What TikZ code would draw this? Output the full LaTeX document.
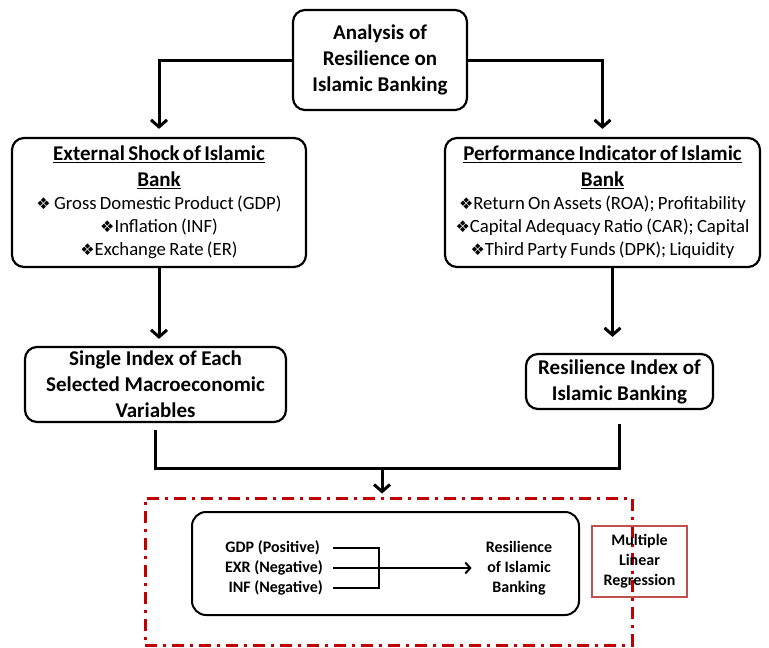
\documentclass[tikz,border=0pt]{standalone}
\usepackage{fontspec}
\setmainfont{Carlito}
\newfontfamily\dingfont{DejaVu Sans}
\usepackage{xcolor}
\usepackage{tikz}
\usetikzlibrary{arrows.meta}
\definecolor{frame red}{RGB}{192,0,0}
\definecolor{box red}{RGB}{192,80,77}
\newcommand{\headsize}{\bfseries\fontsize{21}{26}\selectfont}
\newcommand{\bodysize}{\fontsize{18.7}{23}\selectfont}
\newcommand{\dia}{{\dingfont\fontsize{16}{16}\selectfont ❖}}
\tikzset{mainbox/.style={draw, line width=2.2pt, rounded corners=12pt, align=center, inner sep=0pt},
headbox/.style={mainbox, font=\headsize},
link/.style={line width=3pt},
arrow/.style={link, -{Straight Barb[length=7pt,width=16pt]}},
thin link/.style={line width=2pt},
thin arrow/.style={thin link, -{Straight Barb[length=5pt,width=11pt]}},
varlabel/.style={font=\bfseries\fontsize{16}{20}\selectfont, inner sep=0pt},
%dash dot frame round the regression
regionframe/.style={draw=frame red, line width=3pt, dash pattern=on 12pt off 6pt on 3pt off 6pt},
mlrbox/.style={draw=box red, line width=2pt, align=center, font=\bfseries\fontsize{16}{20}\selectfont}}

\begin{document}
\begin{tikzpicture}[x=1pt, y=-1pt]
\useasboundingbox (0,0) rectangle (769,648);
\node[headbox, minimum width=174pt, minimum height=100pt] (analysis) at (380,60) {Analysis of\\Resilience on\\Islamic Banking};
\node[mainbox, text width=294pt, minimum height=129pt] (shock) at (159,202.5) {%
{\headsize\underline{External Shock of Islamic}\\\underline{Bank}\par}
{\bodysize\dia\ Gross Domestic Product (GDP)\\\dia Inflation (INF)\\\dia Exchange Rate (ER)\par}};
\node[mainbox, text width=315pt, minimum height=129pt] (perf) at (602.5,202.5) {%
{\headsize\underline{Performance Indicator of Islamic}\\\underline{Bank}\par}
{\bodysize\makebox[\linewidth]{\dia Return On Assets (ROA); Profitability}\\\makebox[\linewidth]{\dia Capital Adequacy Ratio (CAR); Capital}\\\dia Third Party Funds (DPK); Liquidity\par}};
\node[headbox, minimum width=261pt, minimum height=75pt] (single) at (155.5,384.5) {Single Index of Each\\Selected Macroeconomic\\Variables};
\node[headbox, minimum width=187pt, minimum height=55pt] (resil) at (619.5,381.5) {Resilience Index of\\Islamic Banking};

\node[regionframe, minimum width=487pt, minimum height=147pt] (region) at (388.5,571.5) {};
\node[draw, line width=2pt, rounded corners=14pt, minimum width=387pt, minimum height=103pt] (model) at (385.5,563.5) {};
\node[varlabel, anchor=east] (gdp) at (320,548) {GDP (Positive)};
\node[varlabel, anchor=east] (exr) at (323,568) {EXR (Negative)};
\node[varlabel, anchor=east] (inf) at (323,588) {INF (Negative)};
\node[varlabel, align=center] (outcome) at (519,568) {Resilience\\of Islamic\\Banking};
\node[mlrbox, minimum width=95pt, minimum height=71pt] (mlr) at (639.5,561.5) {Multiple\\Linear\\Regression};

\coordinate (fork) at (379,568);
\coordinate (join) at (382,468);
\coordinate (perfdrop) at ([xshift=10pt]perf.south);

\draw[arrow, shorten >=8pt] (analysis.west) -| (shock.north);
\draw[arrow, shorten >=8pt] (analysis.east) -| (perf.north);
\draw[arrow, shorten >=7pt] (shock.south) -- (shock.south |- single.north);
\draw[arrow, shorten >=16pt] (perfdrop) -- (perfdrop |- resil.north);
\draw[link] ([yshift=-7pt]single.south) |- (join) -| ([yshift=-14pt]resil.south);
\draw[arrow, shorten >=3pt] (join) -- (join |- region.north);

\draw[thin link] ([xshift=13pt]gdp.east) -| (fork);
\draw[thin link] ([xshift=10pt]inf.east) -| (fork);
\draw[thin arrow] ([xshift=10pt]exr.east) -- ([xshift=-14pt]outcome.west);
\end{tikzpicture}
\end{document}
